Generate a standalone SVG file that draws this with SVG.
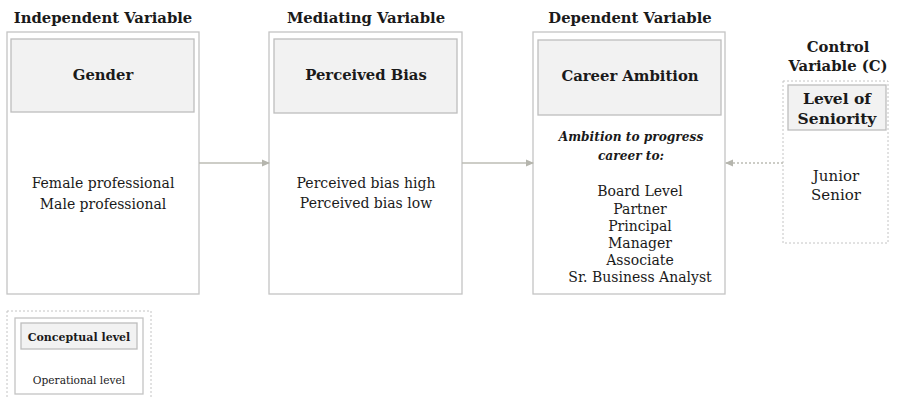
<svg xmlns="http://www.w3.org/2000/svg" width="897" height="399" viewBox="0 0 897 399">
<defs>
<style>
.t{font-family:"DejaVu Serif","Liberation Serif",serif;fill:#1a1a1a;text-anchor:middle}
.h{font-weight:bold;font-size:14.8px}
.n{font-size:14px}
.outer{fill:#fff;stroke:#c4c4c4;stroke-width:1.3}
.inner{fill:#f2f2f2;stroke:#bdbdbd;stroke-width:1.3}
.dot{fill:none;stroke:#c4c4c4;stroke-width:1;stroke-dasharray:2,2}
.conn{stroke:#bcbcb4;stroke-width:1.3;fill:none}
</style>
<marker id="ah" markerWidth="8" markerHeight="8" refX="7" refY="4" orient="auto" markerUnits="userSpaceOnUse">
<path d="M0,0.5 L8,4 L0,7.5 Z" fill="#b5b5ad"/>
</marker>
</defs>
<rect width="897" height="399" fill="#fff"/>

<g id="iv">
<text class="t h" x="103" y="23">Independent Variable</text>
<rect class="outer" x="7" y="32" width="192" height="262"/>
<rect class="inner" x="11" y="39" width="183" height="73"/>
<text class="t h" x="103" y="80">Gender</text>
<text class="t n" x="103" y="188">Female professional</text>
<text class="t n" x="103" y="209">Male professional</text>
</g>

<g id="mv">
<text class="t h" x="366" y="23">Mediating Variable</text>
<rect class="outer" x="269" y="32" width="193" height="262"/>
<rect class="inner" x="274" y="39" width="183" height="74"/>
<text class="t h" x="366" y="80">Perceived Bias</text>
<text class="t n" x="366" y="188">Perceived bias high</text>
<text class="t n" x="366" y="208">Perceived bias low</text>
</g>

<g id="dv">
<text class="t h" x="630" y="23">Dependent Variable</text>
<rect class="outer" x="533" y="32" width="192" height="262"/>
<rect class="inner" x="538" y="40" width="183" height="75"/>
<text class="t h" x="630" y="81">Career Ambition</text>
<text class="t" style="font-weight:bold;font-style:italic;font-size:12.2px" x="631" y="141">Ambition to progress</text>
<text class="t" style="font-weight:bold;font-style:italic;font-size:12.2px" x="631" y="160">career to:</text>
<text class="t n" x="640" y="196">Board Level</text>
<text class="t n" x="640" y="214">Partner</text>
<text class="t n" x="640" y="231">Principal</text>
<text class="t n" x="640" y="248">Manager</text>
<text class="t n" x="640" y="265">Associate</text>
<text class="t n" x="640" y="282">Sr. Business Analyst</text>
</g>

<g id="cv">
<text class="t h" x="838" y="52">Control</text>
<text class="t h" x="838" y="71">Variable (C)</text>
<rect class="dot" x="783" y="81" width="105" height="162"/>
<rect class="inner" x="788" y="85" width="98" height="45"/>
<text class="t h" x="837" y="104" style="font-size:15.5px">Level of</text>
<text class="t h" x="837" y="124" style="font-size:15.5px">Seniority</text>
<text class="t n" x="836" y="181" style="font-size:15px">Junior</text>
<text class="t n" x="836" y="200" style="font-size:15px">Senior</text>
</g>

<g id="legend">
<rect class="dot" x="7" y="311" width="144" height="95"/>
<rect class="outer" x="15" y="318" width="128" height="76"/>
<rect class="inner" x="21" y="323" width="116" height="26"/>
<text class="t" style="font-weight:bold;font-size:11px" x="79" y="341">Conceptual level</text>
<text class="t" style="font-size:10.6px" x="79" y="384">Operational level</text>
</g>

<g id="connectors">
<line class="conn" x1="199" y1="163" x2="269" y2="163" marker-end="url(#ah)"/>
<line class="conn" x1="462" y1="163" x2="533" y2="163" marker-end="url(#ah)"/>
<line class="conn" x1="783" y1="163" x2="726" y2="163" stroke-dasharray="2,2" marker-end="url(#ah)"/>
</g>
</svg>
